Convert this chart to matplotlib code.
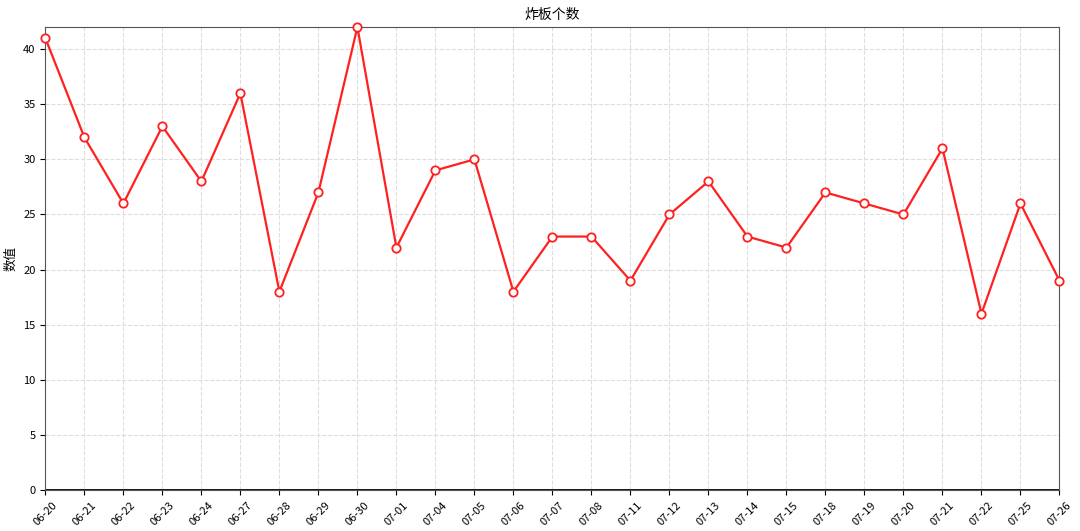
import matplotlib.pyplot as plt

plt.rcParams['font.family'] = ['Noto Sans CJK SC', 'DejaVu Sans']

dates = ["06-20", "06-21", "06-22", "06-23", "06-24", "06-27", "06-28", "06-29",
         "06-30", "07-01", "07-04", "07-05", "07-06", "07-07", "07-08", "07-11",
         "07-12", "07-13", "07-14", "07-15", "07-18", "07-19", "07-20", "07-21",
         "07-22", "07-25", "07-26"]
counts = [41, 32, 26, 33, 28, 36, 18, 27, 42, 22, 29, 30, 18, 23, 23, 19,
          25, 28, 23, 22, 27, 26, 25, 31, 16, 26, 19]

fig = plt.figure(figsize=(10.8, 5.31), dpi=100)
ax = fig.add_axes([0.042, 0.077, 0.939, 0.872])

x = list(range(len(dates)))
ax.plot(x, counts, color="#ff2020", linewidth=1.6, marker="o",
        markersize=6, markerfacecolor="white", markeredgecolor="#ff2020",
        markeredgewidth=1.3, clip_on=False, zorder=3)

ax.set_xlim(0, len(dates) - 1)
ax.set_ylim(0, 42)
ax.set_xticks(x)
ax.set_xticklabels(dates, rotation=45, fontsize=8)
ax.tick_params(axis="y", labelsize=8)
ax.grid(True, linestyle="--", color="#dddddd", linewidth=0.8)
ax.axhline(0, color="black", linewidth=2.0)

for s in ax.spines.values():
    s.set_color("#555555")

ax.set_title("炸板个数", fontsize=10)
ax.set_ylabel("数值", fontsize=9)

plt.savefig("out.png", dpi=100)
plt.close()
